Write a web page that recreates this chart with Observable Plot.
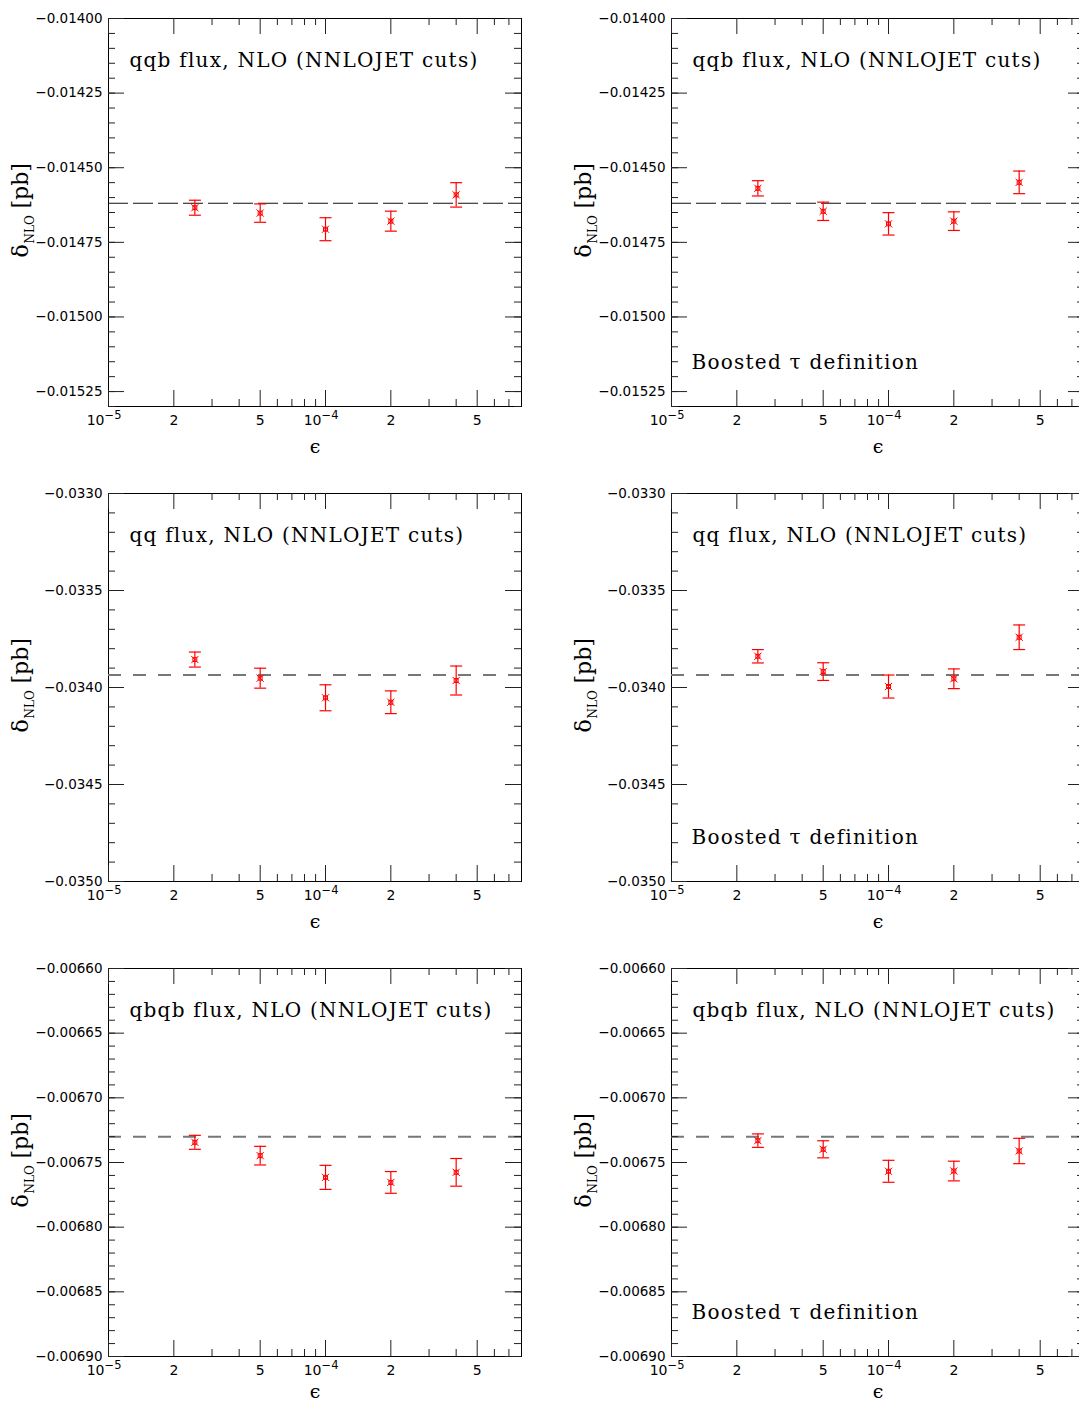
<!DOCTYPE html>
<html>
<head>
<meta charset="utf-8">
<script src="https://cdn.jsdelivr.net/npm/d3@7"></script>
<script src="https://cdn.jsdelivr.net/npm/@observablehq/plot@0.6"></script>
<style>
  html, body { margin: 0; padding: 0; background: white; overflow: hidden; }
  #page { position: relative; width: 1079px; height: 1403px; overflow: hidden; background: white; }
  .panel { position: absolute; width: 562px; height: 475px; }
  .panel svg { max-width: none !important; }
</style>
</head>
<body>
<div id="page"></div>
<script>
// ---------- data ----------
const epsilon = [2.5e-5, 5e-5, 1e-4, 2e-4, 4e-4];

const qqbStd      = [-0.014634, -0.014652, -0.014706, -0.014679, -0.014591];
const qqbStdErr   = [0.0000251, 0.0000308, 0.0000385, 0.0000335, 0.0000409];
const qqbBoost    = [-0.014569, -0.014646, -0.014688, -0.014679, -0.014549];
const qqbBoostErr = [0.0000256, 0.0000307, 0.0000375, 0.0000312, 0.0000379];

const qqStd       = [-0.033856, -0.033952, -0.034053, -0.034076, -0.033964];
const qqStdErr    = [0.0000387, 0.0000515, 0.0000670, 0.0000585, 0.0000747];
const qqBoost     = [-0.033839, -0.033918, -0.033995, -0.033955, -0.033741];
const qqBoostErr  = [0.0000345, 0.0000456, 0.0000593, 0.0000508, 0.0000634];

const qbqbStd       = [-0.0067344, -0.0067447, -0.0067615, -0.0067654, -0.0067576];
const qbqbStdErr    = [0.0000054, 0.0000072, 0.0000093, 0.0000084, 0.0000107];
const qbqbBoost     = [-0.0067331, -0.0067398, -0.0067568, -0.0067566, -0.0067411];
const qbqbBoostErr  = [0.0000052, 0.0000066, 0.0000085, 0.0000076, 0.0000098];

const refValues = [-0.014619, -0.033935, -0.00673];   // dashed reference lines per row

const titles = ["qqb flux, NLO (NNLOJET cuts)", "qq flux, NLO (NNLOJET cuts)", "qbqb flux, NLO (NNLOJET cuts)"];
const boostedLabel = "Boosted \u03C4 definition";

// axis ticks
const xDomain = [1e-5, 8e-4];
const xMajorTicks = [1e-5, 2e-5, 5e-5, 1e-4, 2e-4, 5e-4];
const xMinorTicks = [3e-5, 4e-5, 6e-5, 7e-5, 8e-5, 9e-5, 3e-4, 4e-4, 6e-4, 7e-4];
const xTickBase = ["10", "2", "5", "10", "2", "5"];
const xTickExp  = ["\u22125", "", "", "\u22124", "", ""];

const yDomains = [[-0.0153, -0.0140], [-0.0350, -0.0330], [-0.0069, -0.0066]];
const yMajorTicks = [
  [-0.01400, -0.01425, -0.01450, -0.01475, -0.01500, -0.01525],
  [-0.0330, -0.0335, -0.0340, -0.0345, -0.0350],
  [-0.00660, -0.00665, -0.00670, -0.00675, -0.00680, -0.00685, -0.00690]
];
const yMinorStep = [0.00005, 0.0001, 0.00001];
const yFormats = [".5f", ".4f", ".5f"];
const dashColors = ["#111", "#777", "#777"];
const dashPatterns = ["20,5", "13,12", "13,12"];
const dashWidths = [1.2, 2, 2];

// ---------- layout ----------
const W = 562, H = 475, ML = 108, MT = 18, FW = 413, FH = 388;
const MR = W - ML - FW, MB = H - MT - FH;
const majorLen = 16, minorLen = 7;
const epsLabelOffset = [40, 40, 35];

const capSymbol = { draw(ctx, size) { const r = Math.sqrt(size / Math.PI); ctx.moveTo(-r, 0); ctx.lineTo(r, 0); } };
const starSymbol = { draw(ctx, size) {
  const r = Math.sqrt(size / Math.PI), s = r * 0.55;
  ctx.moveTo(-s, -s); ctx.lineTo(s, -s); ctx.lineTo(s, s); ctx.lineTo(-s, s); ctx.closePath();
  ctx.moveTo(-r, -r); ctx.lineTo(r, r); ctx.moveTo(-r, r); ctx.lineTo(r, -r);
} };

function minorTicks(domain, step) {
  const [a, b] = domain;
  const n = Math.round((b - a) / step);
  return d3.range(n + 1).map(i => +(a + i * step).toFixed(8));
}

function panel(row, vals, errs, boosted) {
  const data = epsilon.map((x, i) => ({x, y: vals[i], e: errs[i]}));
  const yMinor = minorTicks(yDomains[row], yMinorStep[row]);
  const xLab = xMajorTicks.map((v, i) => ({v, base: xTickBase[i], exp: xTickExp[i]}));
  const xPlain = xLab.filter(d => d.exp === "");
  const xPow = xLab.filter(d => d.exp !== "");
  const tickStroke = "#222";
  const marks = [
    Plot.frame({stroke: "black", strokeWidth: 1}),
    Plot.ruleY([refValues[row]], {stroke: dashColors[row], strokeDasharray: dashPatterns[row], strokeWidth: dashWidths[row]}),
    // inward ticks, left & right
    Plot.tickY(yMajorTicks[row], {insetRight: FW - majorLen, stroke: tickStroke}),
    Plot.tickY(yMajorTicks[row], {insetLeft: FW - majorLen, stroke: tickStroke}),
    Plot.tickY(yMinor, {insetRight: FW - minorLen, stroke: tickStroke}),
    Plot.tickY(yMinor, {insetLeft: FW - minorLen, stroke: tickStroke}),
    // inward ticks, top & bottom
    Plot.tickX(xMajorTicks, {insetBottom: FH - majorLen, stroke: tickStroke}),
    Plot.tickX(xMajorTicks, {insetTop: FH - majorLen, stroke: tickStroke}),
    Plot.tickX(xMinorTicks, {insetBottom: FH - minorLen, stroke: tickStroke}),
    Plot.tickX(xMinorTicks, {insetTop: FH - minorLen, stroke: tickStroke}),
    // error bars
    Plot.ruleX(data, {x: "x", y1: d => d.y - d.e, y2: d => d.y + d.e, stroke: "red", strokeWidth: 1.2}),
    Plot.dot(data, {x: "x", y: d => d.y - d.e, symbol: capSymbol, r: 6, stroke: "red", fill: "none", strokeWidth: 1.2}),
    Plot.dot(data, {x: "x", y: d => d.y + d.e, symbol: capSymbol, r: 6, stroke: "red", fill: "none", strokeWidth: 1.2}),
    Plot.dot(data, {x: "x", y: "y", symbol: starSymbol, r: 3.6, stroke: "red", fill: "none", strokeWidth: 1}),
    // y tick labels
    Plot.axisY({ticks: yMajorTicks[row], tickSize: 0, tickPadding: 6, tickFormat: d3.format(yFormats[row]), label: null, fontSize: 13.5}),
    // x tick labels
    Plot.text(xPlain, {x: "v", text: "base", frameAnchor: "bottom", dy: 14, textAnchor: "middle", lineAnchor: "middle", fontSize: 14}),
    Plot.text(xPow, {x: "v", text: "base", frameAnchor: "bottom", dy: 14, dx: -4, textAnchor: "end", lineAnchor: "middle", fontSize: 14}),
    Plot.text(xPow, {x: "v", text: "exp", frameAnchor: "bottom", dy: 9, dx: -4, textAnchor: "start", lineAnchor: "middle", fontSize: 11.5}),
    // x label
    Plot.text(["\u03F5"], {text: d => d, frameAnchor: "bottom", dy: epsLabelOffset[row], lineAnchor: "middle", fontFamily: "DejaVu Serif", fontSize: 19}),
    // y label: δ_NLO [pb]
    Plot.text(["\u03B4"], {text: d => d, frameAnchor: "left", dx: -81, dy: 45, rotate: -90, textAnchor: "start", lineAnchor: "bottom", fontFamily: "DejaVu Serif", fontSize: 22}),
    Plot.text(["NLO"], {text: d => d, frameAnchor: "left", dx: -75, dy: 31, rotate: -90, textAnchor: "start", lineAnchor: "bottom", fontFamily: "DejaVu Serif", fontSize: 12}),
    Plot.text(["[pb]"], {text: d => d, frameAnchor: "left", dx: -81, dy: -4, rotate: -90, textAnchor: "start", lineAnchor: "bottom", fontFamily: "DejaVu Serif", fontSize: 22}),
    // annotation
    Plot.text([titles[row]], {text: d => d, frameAnchor: "top-left", dx: 21, dy: 48, textAnchor: "start", lineAnchor: "bottom", fontFamily: "DejaVu Serif", fontSize: 20})
  ];
  if (boosted) {
    marks.push(Plot.text([boostedLabel], {text: d => d, frameAnchor: "bottom-left", dx: 20, dy: -38, textAnchor: "start", lineAnchor: "bottom", fontFamily: "DejaVu Serif", fontSize: 20}));
  }
  const svg = Plot.plot({
    width: W, height: H,
    marginLeft: ML, marginRight: MR, marginTop: MT, marginBottom: MB,
    x: {type: "log", domain: xDomain, axis: null},
    y: {domain: yDomains[row]},
    style: {fontFamily: "DejaVu Sans", fontSize: "13.5px", background: "white", color: "black", overflow: "visible", maxWidth: "none"},
    marks
  });
  d3.select(svg).selectAll("text").filter(function() {
    const t = this.textContent; return t === titles[row] || t === boostedLabel;
  }).attr("letter-spacing", "1.25px");
  return svg;
}

const page = document.getElementById("page");
const panels = [
  [0, qqbStd, qqbStdErr, false], [0, qqbBoost, qqbBoostErr, true],
  [1, qqStd, qqStdErr, false],   [1, qqBoost, qqBoostErr, true],
  [2, qbqbStd, qbqbStdErr, false], [2, qbqbBoost, qbqbBoostErr, true]
];
panels.forEach(([row, v, e, b], k) => {
  const div = document.createElement("div");
  div.className = "panel";
  div.style.left = (k % 2 === 0 ? 0 : 563) + "px";
  div.style.top = (row * 475) + "px";
  div.appendChild(panel(row, v, e, b));
  page.appendChild(div);
});
</script>
</body>
</html>
